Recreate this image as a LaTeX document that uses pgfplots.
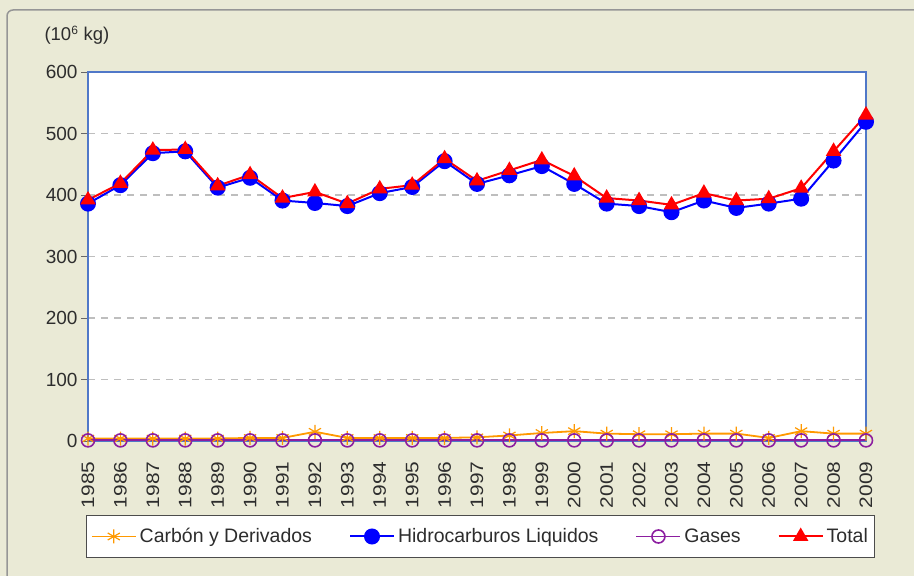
\documentclass[border=0pt]{standalone}
\usepackage{pgfplots}
\pgfplotsset{compat=1.18}
\usepackage{pgfplotstable}
\usepackage{fontspec}
\setmainfont{Liberation Sans}
\definecolor{bgc}{RGB}{234,234,214}
\definecolor{frame}{RGB}{150,150,150}
\definecolor{axblue}{RGB}{80,120,200}
\definecolor{corange}{RGB}{255,153,0}
\definecolor{cblue}{RGB}{0,0,255}
\definecolor{cpurple}{RGB}{140,30,160}
\definecolor{cred}{RGB}{255,0,0}
\definecolor{gridc}{RGB}{190,190,190}
\definecolor{txt}{RGB}{45,45,45}
\pgfplotstableread{
year C H G T
1985 4 386 1 392
1986 4 416 1 419
1987 4 468 1 473
1988 4 471 1 474
1989 4 412 1 415
1990 5 428 1 433
1991 5 391 1 395
1992 15 387 1 405
1993 5 382 1 386
1994 5 403 1 410
1995 5 413 1 416
1996 5 455 1 459
1997 6 418 1 423
1998 9 432 1 440
1999 13 447 1 457
2000 16 418 1 431
2001 12 386 1 395
2002 11 382 1 391
2003 11 372 1 384
2004 12 391 1 403
2005 12 379 1 391
2006 5 386 1 394
2007 16 394 1 411
2008 12 456 1 471
2009 12 519 1 530
}\datatable
\begin{document}
\begin{tikzpicture}
\useasboundingbox (0pt,0pt) rectangle (914pt,576pt);
\fill[bgc] (0pt,0pt) rectangle (914pt,576pt);
\draw[frame, line width=1.5pt, rounded corners=6pt] (7pt,-20pt) -- (7pt,566pt) -- (940pt,566pt);
\begin{axis}[
  at={(88pt,135pt)}, anchor=south west,
  scale only axis, width=778pt, height=369pt,
  xmin=1985, xmax=2009, ymin=0, ymax=600,
  clip=false,
  axis background/.style={fill=white},
  axis line style={axblue, line width=1.3pt},
  ytick={0,100,...,600},
  ytick pos=left,
  xtick=data,
  /pgf/number format/1000 sep={},
  /pgf/number format/assume math mode=true,
  ymajorgrids,
  major grid style={gridc, line width=1.3pt, dash pattern=on 7pt off 6pt},
  tick align=outside,
  major tick length=7pt,
  ytick style={black!60, line width=0.8pt},
  xtick style={draw=none},
  ticklabel style={font=\fontsize{19}{21}\selectfont, text=txt},
  xticklabel={\scalebox{1.1}[0.95]{\pgfmathprintnumber{\tick}}},
  xticklabel style={rotate=90, anchor=east},
  xticklabel shift=10pt,
  legend columns=4,
  legend style={
    at={(rel axis cs:0.505,-0.2588)}, anchor=center,
    draw=black!70, line width=1pt, fill=white,
    font=\fontsize{19.5}{21}\selectfont, text=txt,
    inner xsep=4pt, inner ysep=11pt,
    nodes={inner xsep=3pt},
    /tikz/every even column/.append style={column sep=34pt},
  },
  legend image code/.code={\draw[mark repeat=2,mark phase=2,#1] plot coordinates {(0pt,0pt) (22pt,0pt) (44pt,0pt)};},
]
\addplot[corange, line width=1.8pt, mark=asterisk, mark size=7pt, mark options={line width=1.2pt}] table[x=year,y=C] {\datatable};
\addlegendentry{Carbón y Derivados}
\addplot[cblue, line width=2pt, mark=*, mark size=7pt] table[x=year,y=H] {\datatable};
\addlegendentry{Hidrocarburos Liquidos}
\addplot[cpurple, line width=1.8pt, mark=o, mark size=6.5pt, mark options={line width=1.6pt}] table[x=year,y=G] {\datatable};
\addlegendentry{Gases}
\addplot[cred, line width=2pt, mark=triangle*, mark size=7pt] table[x=year,y=T] {\datatable};
\addlegendentry{Total}
\end{axis}
\node[anchor=west, text=txt, font=\fontsize{18.5}{20}\selectfont] at (41pt,541pt) {(10$^{\mbox{\fontsize{12}{12}\selectfont 6}}$ kg)};
\end{tikzpicture}
\end{document}
